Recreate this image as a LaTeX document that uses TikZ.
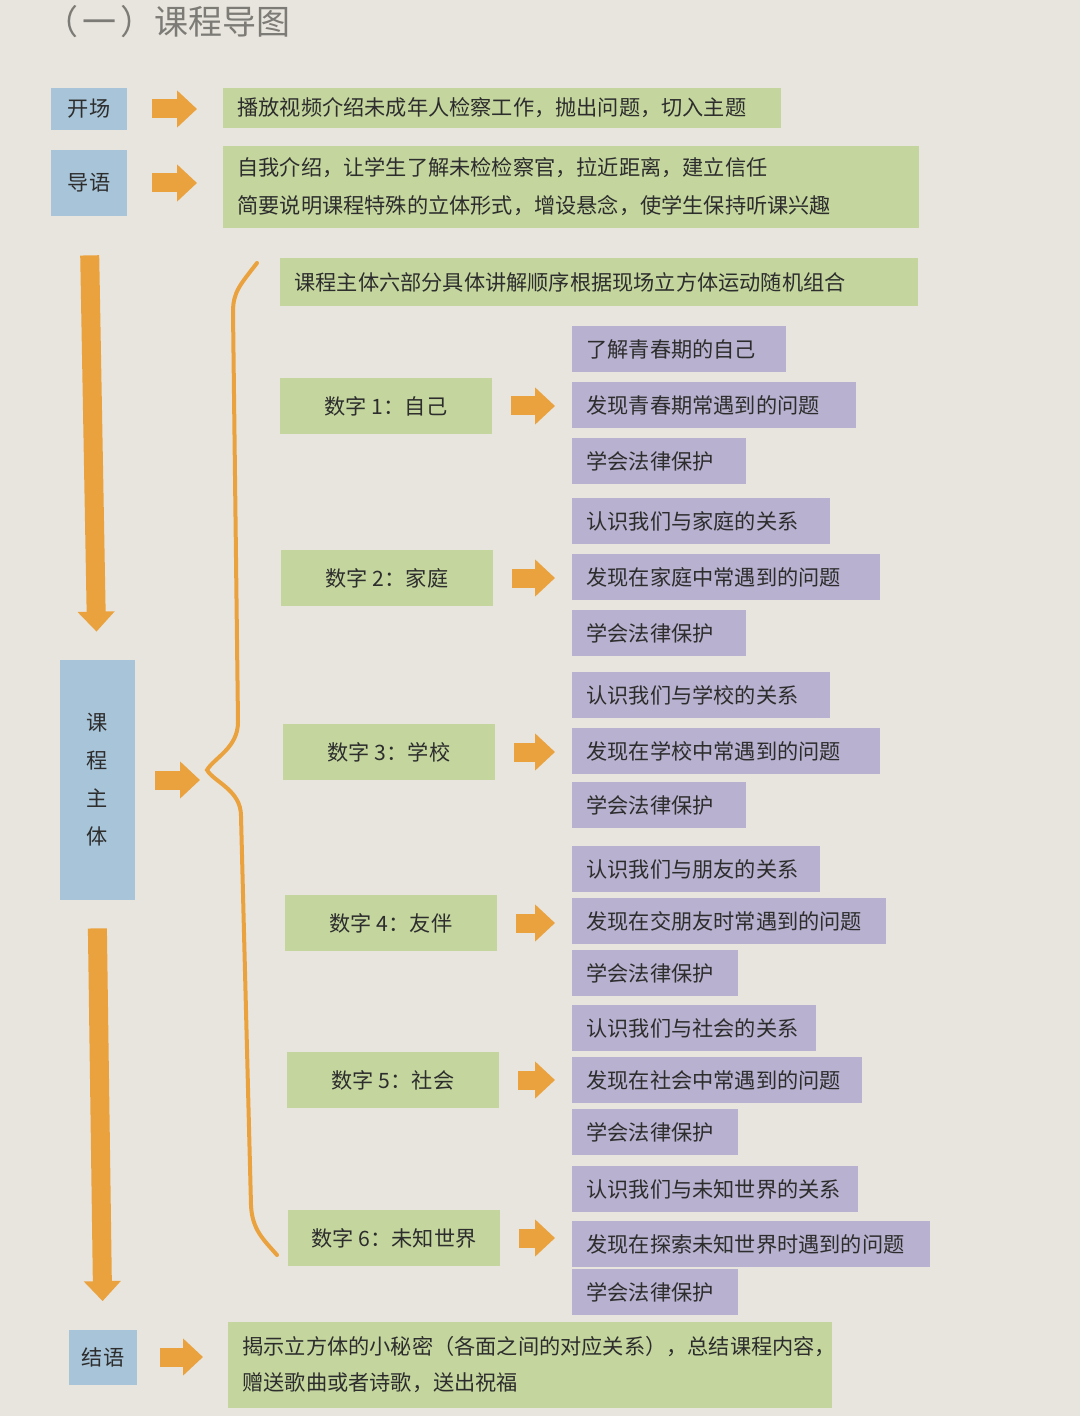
\documentclass[tikz,border=0pt]{standalone}
\usepackage{fontspec}
\setmainfont{Noto Sans CJK SC}
\usepackage{tikz}
\usetikzlibrary{arrows.meta}
\definecolor{paper}{RGB}{232,229,222}
\definecolor{bluebox}{RGB}{168,196,216}
\definecolor{greenbox}{RGB}{196,214,158}
\definecolor{purplebox}{RGB}{184,177,207}
\definecolor{orangearrow}{RGB}{234,162,62}
\definecolor{ink}{RGB}{45,45,45}
\definecolor{titlegray}{RGB}{125,123,118}

\begin{document}
\begin{tikzpicture}[x=0.5pt,y=-0.5pt,
    every node/.style={font=\fontsize{10.6}{19}\selectfont, text=ink, inner sep=0pt},
    lbox/.style={fill=bluebox, align=center},
    gbox/.style={fill=greenbox, anchor=west, align=left, inner xsep=7pt},
    nbox/.style={fill=greenbox, minimum width=106pt, minimum height=28pt},
    pbox/.style={fill=purplebox, anchor=west, align=left, inner xsep=7pt, minimum height=23pt},
    blk/.style={draw=orangearrow, line width=9.5pt, -{Triangle[length=10pt,width=18pt]}},
    brace/.style={draw=orangearrow, line width=2pt, line cap=round}]
          \fill[paper] (0,0) rectangle (1080,1416);
          \useasboundingbox (0,0) rectangle (1080,1416);

          \node[anchor=west, font=\fontsize{17}{20}\selectfont, text=titlegray] (title) at (44,22) {（\kern2pt 一\kern2pt ）课程导图};

          % left column
          \node[lbox, minimum width=38pt, minimum height=21pt] (kc) at (89,109) {开场};
          \node[lbox, minimum width=38pt, minimum height=33pt] (dy) at (89,183) {导语};
          \node[lbox, minimum width=37.5pt, minimum height=120pt] (kt) at (97,780) {课\\程\\主\\体};
          \node[lbox, minimum width=34pt, minimum height=27.5pt] (jy) at (103,1357) {结语};

          \node[gbox, text width=265pt, minimum height=20pt] (kcT) at (223,108) {播放视频介绍未成年人检察工作，抛出问题，切入主题};
          \node[gbox, text width=334pt, minimum height=41pt] (dyT) at (223,187) {自我介绍，让学生了解未检检察官，拉近距离，建立信任\\简要说明课程特殊的立体形式，增设悬念，使学生保持听课兴趣};
          \node[gbox, text width=288pt, minimum height=43pt, font=\fontsize{10.6}{18}\selectfont] (jyT) at (228,1365) {揭示立方体的小秘密（各面之间的对应关系），总结课程内容，\\赠送歌曲或者诗歌，送出祝福};

          \draw[blk, shorten <=12.5pt, shorten >=13pt] (kc.east) -- (kc.east -| kcT.west);
          \draw[blk, shorten <=12.5pt, shorten >=13pt] (dy.east) -- (dy.east -| dyT.west);
          \draw[blk, shorten <=11.5pt, shorten >=12.5pt] (jy.east) -- (jy.east -| jyT.west);
          \draw[blk, shorten <=19.5pt, shorten >=14pt] (dy.south) -- (kt.north);
          \draw[blk, shorten <=14pt, shorten >=14pt] (kt.south) -- (jy.north);

          % brace
          \coordinate (tip) at (207,770);
          \draw[brace] (257,263) .. controls (240,285) and (233,292) .. (233,312) -- (238,722)
                .. controls (238,748) and (214,758) .. (tip)
                .. controls (214,782) and (241,790) .. (241,816) -- (251,1205)
                .. controls (252,1230) and (264,1240) .. (277,1255);
          \draw[blk, shorten <=10pt, shorten >=3.5pt] (kt.east) -- (kt.east -| tip);

          % body
          \node[gbox, text width=305pt, minimum height=24pt] (intro) at (280,282) {课程主体六部分具体讲解顺序根据现场立方体运动随机组合};

          \node[nbox] (n1) at (386,406) {数字 1：自己};
          \node[nbox] (n2) at (387,578) {数字 2：家庭};
          \node[nbox] (n3) at (389,752) {数字 3：学校};
          \node[nbox] (n4) at (391,923) {数字 4：友伴};
          \node[nbox] (n5) at (393,1080) {数字 5：社会};
          \node[nbox] (n6) at (394,1238) {数字 6：未知世界};

          \node[pbox, text width=93pt] (s1a) at (572,349) {了解青春期的自己};
          \node[pbox, text width=128pt] (s1b) at (572,405) {发现青春期常遇到的问题};
          \node[pbox, text width=73pt] (s1c) at (572,461) {学会法律保护};

          \node[pbox, text width=115pt] (s2a) at (572,521) {认识我们与家庭的关系};
          \node[pbox, text width=140pt] (s2b) at (572,577) {发现在家庭中常遇到的问题};
          \node[pbox, text width=73pt] (s2c) at (572,633) {学会法律保护};

          \node[pbox, text width=115pt] (s3a) at (572,695) {认识我们与学校的关系};
          \node[pbox, text width=140pt] (s3b) at (572,751) {发现在学校中常遇到的问题};
          \node[pbox, text width=73pt] (s3c) at (572,805) {学会法律保护};

          \node[pbox, text width=110pt] (s4a) at (572,869) {认识我们与朋友的关系};
          \node[pbox, text width=143pt] (s4b) at (572,921) {发现在交朋友时常遇到的问题};
          \node[pbox, text width=69pt] (s4c) at (572,973) {学会法律保护};

          \node[pbox, text width=108pt] (s5a) at (572,1028) {认识我们与社会的关系};
          \node[pbox, text width=131pt] (s5b) at (572,1080) {发现在社会中常遇到的问题};
          \node[pbox, text width=69pt] (s5c) at (572,1132) {学会法律保护};

          \node[pbox, text width=129pt] (s6a) at (572,1189) {认识我们与未知世界的关系};
          \node[pbox, text width=165pt] (s6b) at (572,1244) {发现在探索未知世界时遇到的问题};
          \node[pbox, text width=69pt] (s6c) at (572,1292) {学会法律保护};

          \draw[blk, shorten <=9.5pt, shorten >=8.5pt] (n1.east) -- (n1.east -| s1b.west);
          \draw[blk, shorten <=9.5pt, shorten >=8.5pt] (n2.east) -- (n2.east -| s2b.west);
          \draw[blk, shorten <=9.5pt, shorten >=8.5pt] (n3.east) -- (n3.east -| s3b.west);
          \draw[blk, shorten <=9.5pt, shorten >=8.5pt] (n4.east) -- (n4.east -| s4b.west);
          \draw[blk, shorten <=9.5pt, shorten >=8.5pt] (n5.east) -- (n5.east -| s5b.west);
          \draw[blk, shorten <=9.5pt, shorten >=8.5pt] (n6.east) -- (n6.east -| s6b.west);

        \end{tikzpicture}
\end{document}
